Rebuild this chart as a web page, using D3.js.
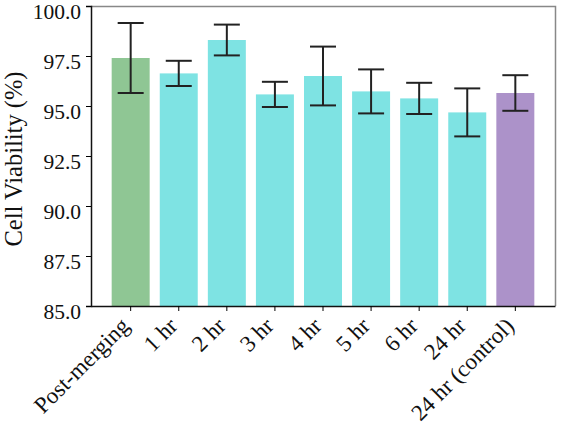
<!DOCTYPE html>
<meta charset="utf-8">
<style>
body { margin: 0; background: #fff; }
</style>
<svg width="561" height="426"></svg>
<script src="https://cdnjs.cloudflare.com/ajax/libs/d3/7.8.5/d3.min.js"></script>
<script>

var categories = ["Post-merging", "1 hr", "2 hr", "3 hr", "4 hr", "5 hr", "6 hr", "24 hr", "24 hr (control)"];
var means = [97.4, 96.63, 98.3, 95.58, 96.5, 95.73, 95.38, 94.68, 95.65];
var errors = [1.75, 0.63, 0.77, 0.63, 1.47, 1.1, 0.78, 1.2, 0.89];
var groups = ["merge", "time", "time", "time", "time", "time", "time", "time", "control"];
var yTicks = [85, 87.5, 90, 92.5, 95, 97.5, 100];

var FONT = "Liberation Serif";
var svg = d3.select("svg");
var margin = {left: 91, right: 6, top: 6, bottom: 120};
var width = 561, height = 426;

var color = d3.scaleOrdinal()
    .domain(["merge", "time", "control"])
    .range(["#8fc694", "#7ee3e3", "#ac92c9"]);

var x = d3.scaleBand()
    .domain(categories)
    .range([margin.left, width - margin.right])
    .paddingInner(0.21)
    .paddingOuter(0.43);

var y = d3.scaleLinear()
    .domain([85, 100])
    .range([height - margin.bottom, margin.top]);

var data = categories.map(function(c, i) {
  return {cat: c, mean: means[i], err: errors[i], group: groups[i]};
});

// bars
svg.append("g")
  .selectAll("rect")
  .data(data)
  .enter().append("rect")
    .attr("x", function(d) { return x(d.cat); })
    .attr("y", function(d) { return y(d.mean); })
    .attr("width", x.bandwidth())
    .attr("height", function(d) { return y(85) - y(d.mean); })
    .attr("fill", function(d) { return color(d.group); });

// error bars
var eb = svg.append("g")
    .attr("stroke", "#222")
    .attr("stroke-width", 2)
  .selectAll("g")
  .data(data)
  .enter().append("g")
    .attr("transform", function(d) { return "translate(" + (x(d.cat) + x.bandwidth() / 2) + ",0)"; });

eb.append("line")
    .attr("y1", function(d) { return y(d.mean - d.err); })
    .attr("y2", function(d) { return y(d.mean + d.err); });
eb.append("line")
    .attr("x1", -13).attr("x2", 13)
    .attr("y1", function(d) { return y(d.mean + d.err); })
    .attr("y2", function(d) { return y(d.mean + d.err); });
eb.append("line")
    .attr("x1", -13).attr("x2", 13)
    .attr("y1", function(d) { return y(d.mean - d.err); })
    .attr("y2", function(d) { return y(d.mean - d.err); });

// frame top/right
svg.append("path")
    .attr("d", "M" + margin.left + "," + (margin.top + 0.5) + "H" + (width - margin.right + 0.5) + "V" + y(85))
    .attr("fill", "none")
    .attr("stroke", "#888")
    .attr("stroke-width", 1.5);

// y axis
var yAxis = svg.append("g")
    .attr("transform", "translate(" + margin.left + ",0)")
    .call(d3.axisLeft(y).tickValues(yTicks).tickFormat(d3.format(".1f")).tickSize(5).tickPadding(5));
yAxis.select(".domain").attr("stroke", "#111").attr("stroke-width", 1.5);
yAxis.selectAll("text")
    .style("font-family", FONT)
    .style("font-size", "21.5px")
    .attr("fill", "#111")
    .attr("dy", "12px");

// x axis
var xAxis = svg.append("g")
    .attr("transform", "translate(0," + y(85) + ")")
    .call(d3.axisBottom(x).tickSize(5).tickSizeOuter(0).tickPadding(4));
xAxis.select(".domain").attr("stroke", "#111").attr("stroke-width", 1.5);
xAxis.selectAll("text")
    .style("font-family", FONT)
    .style("font-size", "23px")
    .attr("fill", "#111")
    .attr("text-anchor", "end")
    .attr("transform", "rotate(-45)")
    .attr("dx", "-15px")
    .attr("dy", "6px");

// y label
svg.append("text")
    .attr("transform", "translate(22," + ((margin.top + y(85)) / 2 + 3) + ") rotate(-90)")
    .attr("text-anchor", "middle")
    .style("font-family", FONT)
    .style("font-size", "24.5px")
    .attr("fill", "#111")
    .text("Cell Viability (%)");

</script>
